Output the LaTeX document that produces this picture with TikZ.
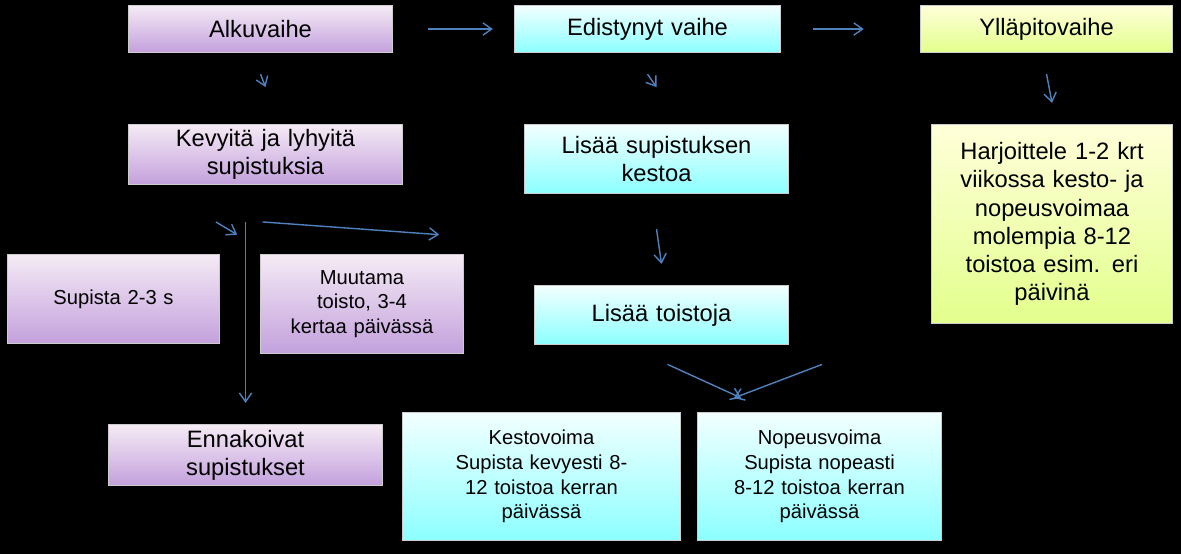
\documentclass[tikz,border=0pt]{standalone}
\usepackage{fontspec}
\setmainfont{Liberation Sans}
\definecolor{arr}{RGB}{79,129,189}
\tikzset{
 bx/.style={draw=gray!40, line width=0.6pt, align=center, inner sep=2pt},
 pu/.style={bx, top color=white!92!violet, bottom color=violet!30!white!90!blue},
 cy/.style={bx, top color=cyan!5!white, bottom color=cyan!45!white},
 gr/.style={bx, top color=yellow!15!white, bottom color=lime!45!white},
 ar/.style={draw=arr, line width=0.8pt, -{Straight Barb[length=5pt,width=7pt]}},
 big/.style={font=\fontsize{13.5}{16}\selectfont},
 sm/.style={font=\fontsize{11.5}{14}\selectfont}
}
\usetikzlibrary{arrows.meta}
\begin{document}
\begin{tikzpicture}[x=0.02cm,y=-0.02cm]
\fill[black] (0,0) rectangle (1181,554);
\newcommand\bxx[6]{\node[#1,minimum width=(#4-#2)*0.02cm,minimum height=(#5-#3)*0.02cm,anchor=north west,text width=(#4-#2)*0.02cm-8pt] (#6) at (#2,#3)}
\bxx{pu,big}{128}{5}{392}{52}{a}{Alkuvaihe};
\bxx{cy,big}{514}{5}{780}{52}{b}{Edistynyt vaihe};
\bxx{gr,big}{920}{5}{1172}{52}{c}{Ylläpitovaihe};
\bxx{pu,big}{128}{124}{402}{184}{k}{Kevyitä ja lyhyitä\\supistuksia};
\bxx{cy,big}{524}{124}{788}{193}{l}{Lisää supistuksen\\kestoa};
\bxx{gr,big}{931}{124}{1172}{323}{h}{Harjoittele 1-2 krt\\viikossa kesto- ja\\nopeusvoimaa\\molempia 8-12\\toistoa esim. eri\\päivinä};
\bxx{pu,sm}{7}{254}{219}{343}{s}{Supista 2-3 s};
\bxx{pu,sm}{260}{254}{463}{353}{m}{Muutama\\toisto, 3-4\\kertaa päivässä};
\bxx{cy,big}{534}{285}{788}{344}{t}{Lisää toistoja};
\bxx{pu,big}{108}{424}{382}{485}{e}{Ennakoivat\\supistukset};
\bxx{cy,sm}{402}{412}{680}{540}{kv}{Kestovoima\\Supista kevyesti 8-\\12 toistoa kerran\\päivässä};
\bxx{cy,sm}{697}{412}{941}{540}{nv}{Nopeusvoima\\Supista nopeasti\\8-12 toistoa kerran\\päivässä};
\draw[ar] ([xshift=20pt]a.east) -- ([xshift=-12pt]b.west);
\draw[ar] ([xshift=18pt]b.east) -- ([xshift=-32pt]c.west);
\draw[ar] ([yshift=-12pt]a.south) -- ([yshift=21pt]k.north);
\draw[ar] ([yshift=-12pt]b.south) -- ([yshift=21pt]l.north);
\draw[ar] ([yshift=-12pt]c.south) -- ([yshift=12pt]h.north);
\draw[ar] ([xshift=50pt,yshift=-21pt]k.south west) -- ([xshift=131pt,yshift=11pt]s.north west);
\draw[ar] ([yshift=-21pt]k.south -| e.north) ++(0,0) coordinate (p1) -- ([yshift=12pt]e.north);
\draw[ar] ([xshift=-80pt,yshift=-21pt]k.south east) -- ([xshift=102pt,yshift=11pt]m.north west);
\draw[ar] ([yshift=-20pt]l.south) -- ([yshift=12pt]t.north);
\draw[ar] ([xshift=76pt,yshift=-11pt]t.south west) -- ([xshift=193pt,yshift=8pt]kv.north west);
\draw[ar] ([xshift=164pt,yshift=-11pt]t.south west) -- ([xshift=21pt,yshift=8pt]nv.north west);
\end{tikzpicture}
\end{document}
